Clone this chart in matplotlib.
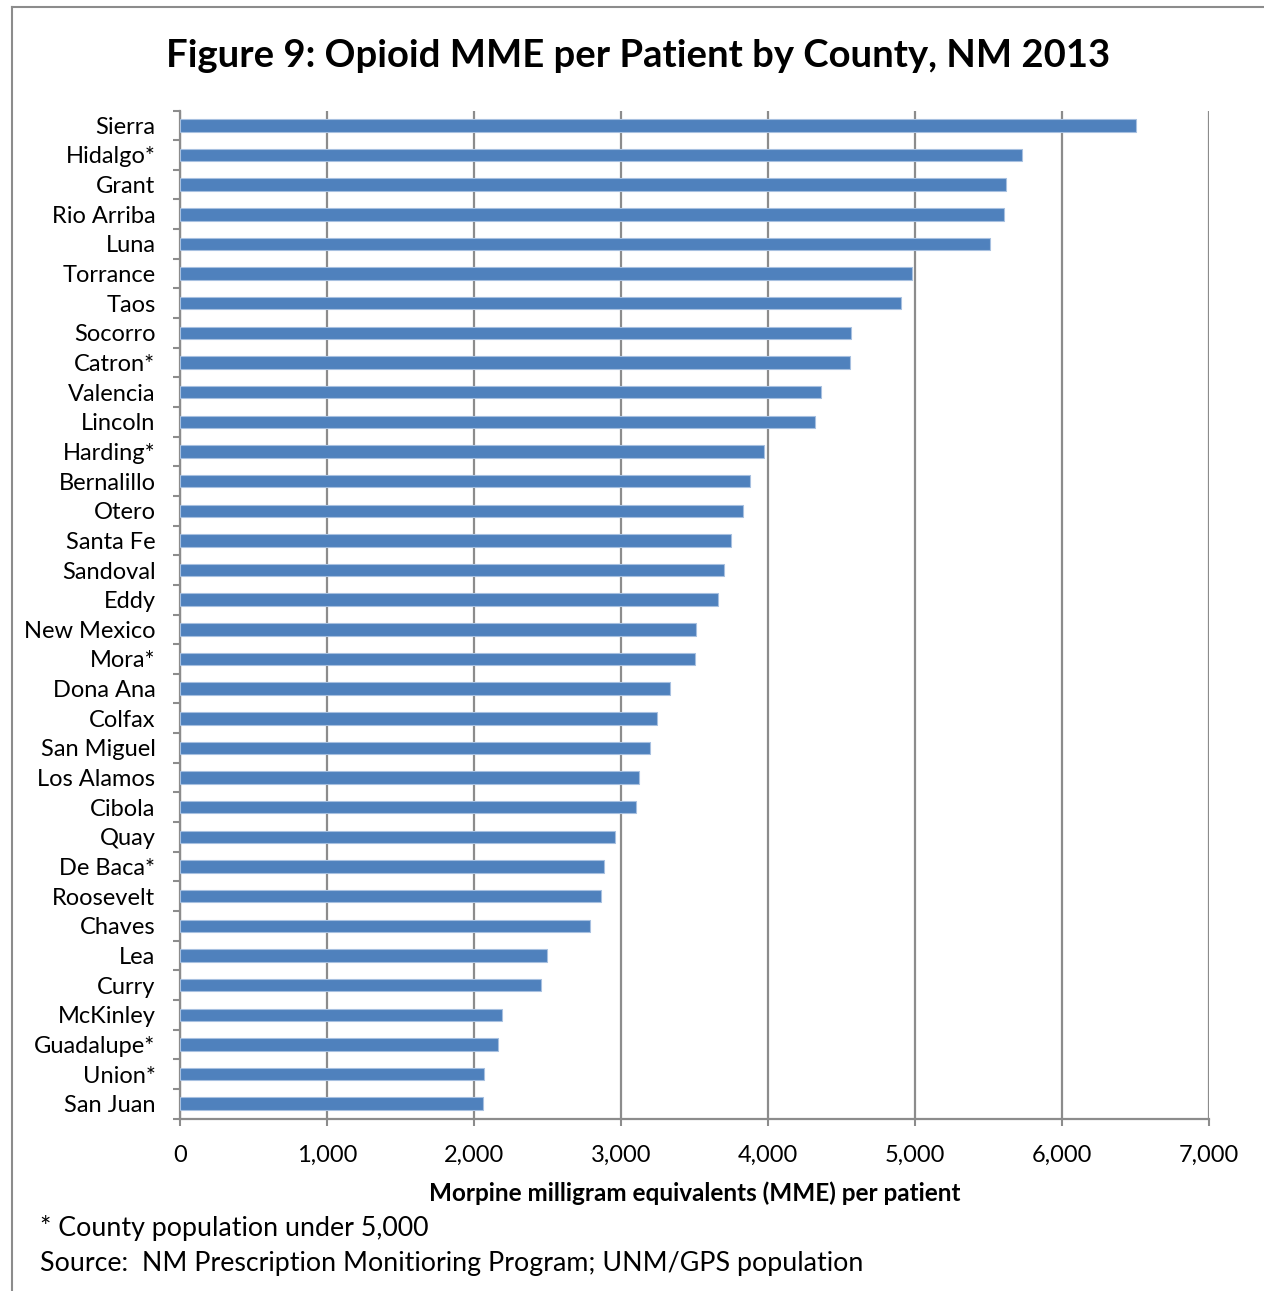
import numpy as np
import matplotlib.pyplot as plt
from matplotlib.lines import Line2D

plt.rcParams['font.family'] = ['Lato', 'DejaVu Sans']

# --- Data (top to bottom as shown)
counties = ['Sierra', 'Hidalgo*', 'Grant', 'Rio Arriba', 'Luna', 'Torrance', 'Taos',
            'Socorro', 'Catron*', 'Valencia', 'Lincoln', 'Harding*', 'Bernalillo',
            'Otero', 'Santa Fe', 'Sandoval', 'Eddy', 'New Mexico', 'Mora*', 'Dona Ana',
            'Colfax', 'San Miguel', 'Los Alamos', 'Cibola', 'Quay', 'De Baca*',
            'Roosevelt', 'Chaves', 'Lea', 'Curry', 'McKinley', 'Guadalupe*', 'Union*',
            'San Juan']
mme = [6500, 5725, 5620, 5605, 5510, 4980, 4900,
       4565, 4555, 4360, 4320, 3970, 3875,
       3825, 3745, 3700, 3655, 3510, 3500, 3330,
       3245, 3195, 3120, 3100, 2955, 2885,
       2860, 2785, 2495, 2455, 2190, 2160, 2065,
       2060]
xticks = [0, 1000, 2000, 3000, 4000, 5000, 6000, 7000]

fig = plt.figure(figsize=(12.64, 12.91), dpi=100)
ax = fig.add_axes([0.1428, 0.1336, 0.8139, 0.7808])

n = len(counties)
y = np.arange(n)
ax.barh(y, mme, height=0.42, color='#4F81BD', edgecolor='#A7C0E0', linewidth=0.8, zorder=3)

ax.set_ylim(n - 0.5, -0.5)
ax.set_xlim(0, 7000)

# --- gridlines and spines
grid_c = '#8C8C8C'
ax.set_xticks(xticks)
ax.set_xticklabels([f'{v:,}' for v in xticks], fontsize=17)
ax.xaxis.grid(True, color=grid_c, linewidth=1.6, zorder=0)
ax.tick_params(axis='x', length=5, width=1.5, color=grid_c, pad=14)

ax.set_yticks(y)
ax.set_yticklabels(counties, fontsize=17)
ax.set_yticks(np.arange(-0.5, n, 1), minor=True)
ax.tick_params(axis='y', which='major', length=0, pad=18)
ax.tick_params(axis='y', which='minor', length=5, width=1.5, color=grid_c)

for s in ['top', 'right']:
    ax.spines[s].set_visible(False)
for s in ['left', 'bottom']:
    ax.spines[s].set_color(grid_c)
    ax.spines[s].set_linewidth(1.6)

ax.set_xlabel('Morpine milligram equivalents (MME) per patient', fontsize=17.5,
              fontweight='bold', labelpad=11)

fig.text(0.505, 0.957, 'Figure 9: Opioid MME per Patient by County, NM 2013',
         ha='center', va='center', fontsize=27.5, fontweight='bold')
fig.text(40 / 1264, 1 - 1228 / 1291, '* County population under 5,000',
         ha='left', va='center', fontsize=19.3)
fig.text(40 / 1264, 1 - 1264 / 1291,
         'Source:  NM Prescription Monitioring Program; UNM/GPS population',
         ha='left', va='center', fontsize=19.3)

# --- outer frame (only left and top visible in the crop)
fx, fy = 11.5 / 1264, 1 - 7 / 1291
fig.add_artist(Line2D([fx, fx], [0, fy], color='#8C8C8C', linewidth=1.5))
fig.add_artist(Line2D([fx, 1], [fy, fy], color='#8C8C8C', linewidth=1.5))

fig.savefig('out.png', dpi=100)
